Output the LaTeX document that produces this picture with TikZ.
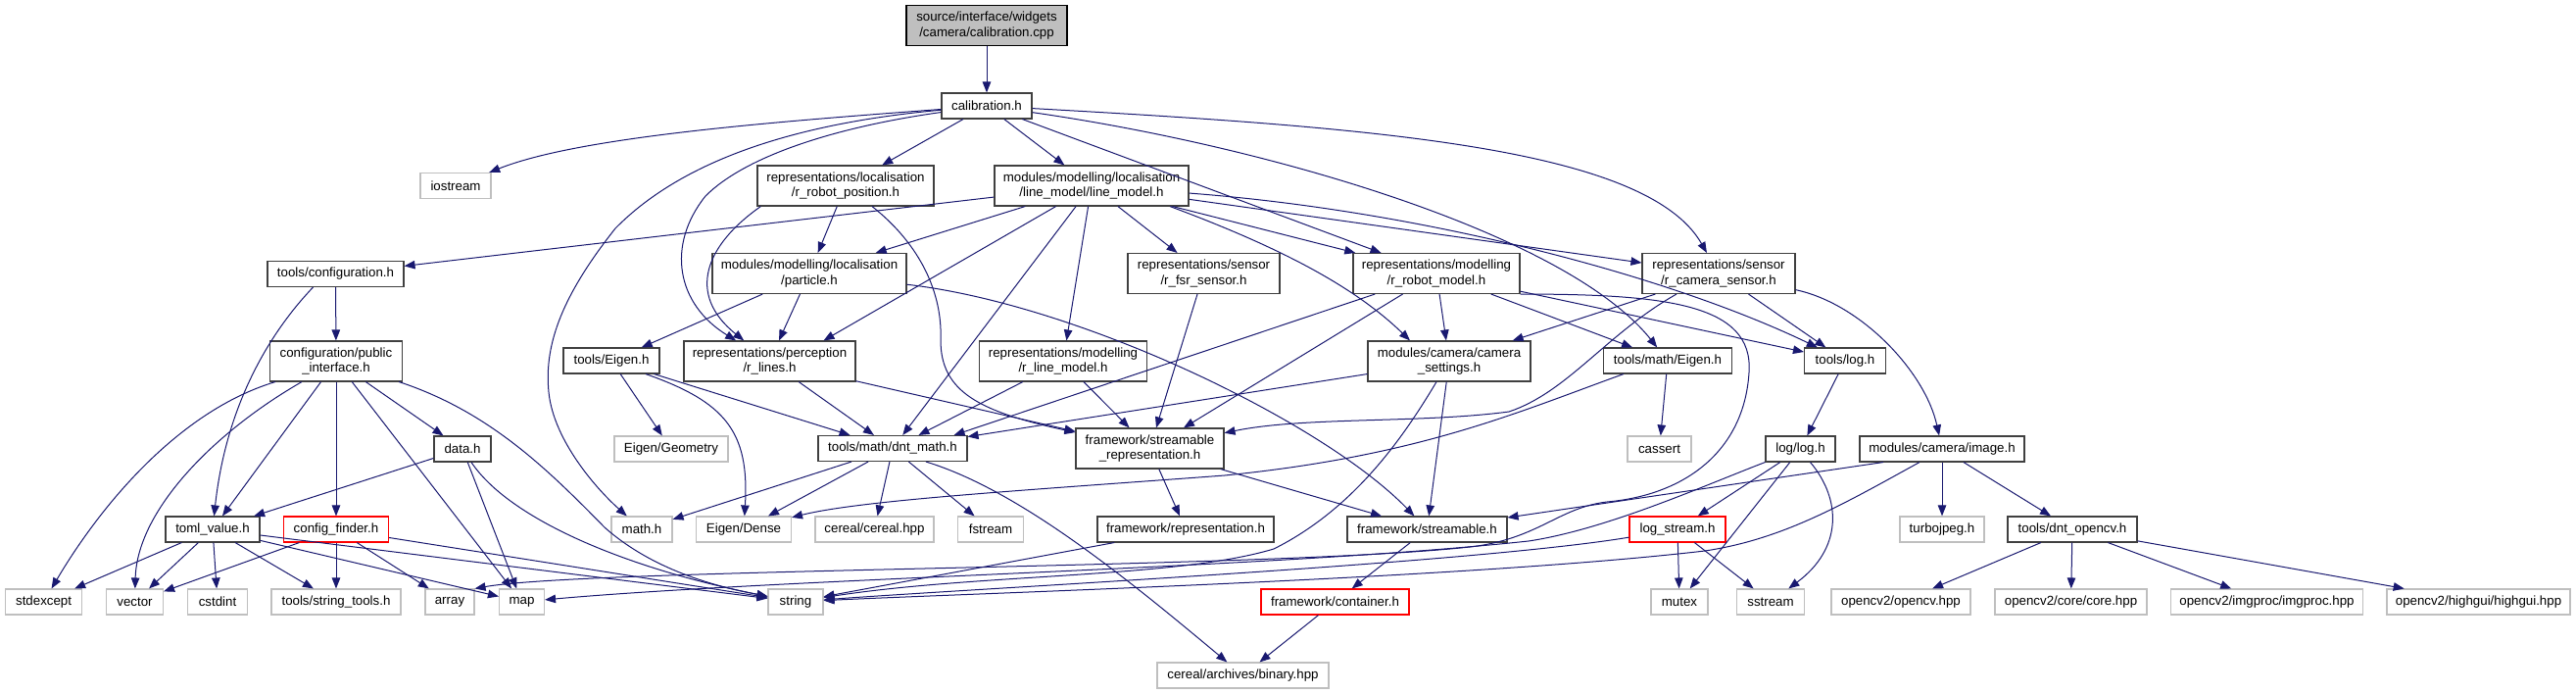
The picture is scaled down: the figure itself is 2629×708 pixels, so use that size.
\documentclass[tikz,border=0pt]{standalone}
\usepackage{fontspec}
\setmainfont{Liberation Sans}
\usetikzlibrary{arrows.meta}
\definecolor{edgec}{HTML}{191970}
\definecolor{extc}{HTML}{BFBFBF}
\definecolor{intc}{HTML}{404040}
\definecolor{rootf}{HTML}{BFBFBF}
\begin{document}
\begin{tikzpicture}[x=1pt,y=-1pt,
 nd/.style={rectangle, inner sep=0pt, align=center, fill=white, line width=1.1pt, font=\fontsize{13.3}{15.3}\selectfont, minimum height=26pt},
 two/.style={minimum height=41pt},
 int/.style={nd, draw=intc},
 ext/.style={nd, draw=extc},
 trunc/.style={nd, draw=red},
 root/.style={nd, draw=black, fill=rootf},
 e/.style={draw=edgec, line width=1pt, -{Triangle[length=11pt,width=8.5pt]}},
]
\fill[white] (0,0) rectangle (2629,708);
\useasboundingbox (0,0) rectangle (2629,708);

% ---------- nodes ----------
\node[root,two,minimum width=164pt] (cpp) at (1007,26) {source/interface/widgets\\/camera/calibration.cpp};
\node[int,minimum width=92pt] (calh) at (1007,108) {calibration.h};
\node[ext,minimum width=72pt] (iostream) at (465,189.5) {iostream};
\node[int,two,minimum width=180pt] (rpos) at (863,189.5) {representations/localisation\\/r\_robot\_position.h};
\node[int,two,minimum width=198pt] (lm) at (1114,189.5) {modules/modelling/localisation\\/line\_model/line\_model.h};
\node[int,minimum width=139pt] (conf) at (342.5,279.5) {tools/configuration.h};
\node[int,two,minimum width=198pt] (part) at (826,279) {modules/modelling/localisation\\/particle.h};
\node[int,two,minimum width=155pt] (fsr) at (1228.5,279) {representations/sensor\\/r\_fsr\_sensor.h};
\node[int,two,minimum width=170pt] (rrm) at (1466,279) {representations/modelling\\/r\_robot\_model.h};
\node[int,two,minimum width=156pt] (rcs) at (1754,279) {representations/sensor\\/r\_camera\_sensor.h};
\node[int,two,minimum width=135pt] (pub) at (343,368.5) {configuration/public\\\_interface.h};
\node[int,minimum width=98pt] (teig) at (624,368) {tools/Eigen.h};
\node[int,two,minimum width=175pt] (rlines) at (785.5,368.5) {representations/perception\\/r\_lines.h};
\node[int,two,minimum width=171pt] (rlm) at (1085,368.5) {representations/modelling\\/r\_line\_model.h};
\node[int,two,minimum width=166pt] (cams) at (1479,368.5) {modules/camera/camera\\\_settings.h};
\node[int,minimum width=131pt] (meig) at (1702,368) {tools/math/Eigen.h};
\node[int,minimum width=83pt] (tlog) at (1883,368) {tools/log.h};
\node[int,minimum width=58pt] (data) at (472,458) {data.h};
\node[ext,minimum width=116pt] (egeom) at (685,458) {Eigen/Geometry};
\node[int,minimum width=152pt] (dnt) at (911,457.5) {tools/math/dnt\_math.h};
\node[int,two,minimum width=151pt] (srep) at (1173.5,457.5) {framework/streamable\\\_representation.h};
\node[ext,minimum width=65pt] (cassert) at (1693.5,458) {cassert};
\node[int,minimum width=71pt] (loglog) at (1837.5,458) {log/log.h};
\node[int,minimum width=168pt] (image) at (1982,458) {modules/camera/image.h};
\node[int,minimum width=96pt] (toml) at (217,540) {toml\_value.h};
\node[trunc,minimum width=107pt] (cfind) at (343,540) {config\_finder.h};
\node[ext,minimum width=62pt] (mathh) at (655,540) {math.h};
\node[ext,minimum width=97pt] (edense) at (759,540) {Eigen/Dense};
\node[ext,minimum width=121pt] (cereal) at (892.5,540) {cereal/cereal.hpp};
\node[ext,minimum width=67pt] (fstream) at (1011,540) {fstream};
\node[int,minimum width=180pt] (repr) at (1210,540) {framework/representation.h};
\node[int,minimum width=163pt] (stream) at (1456.5,540) {framework/streamable.h};
\node[trunc,minimum width=98pt] (lstream) at (1712,540) {log\_stream.h};
\node[ext,minimum width=86pt] (tjpeg) at (1982,540) {turbojpeg.h};
\node[int,minimum width=132pt] (docv) at (2115,540) {tools/dnt\_opencv.h};
\node[ext,minimum width=78pt] (stdexcept) at (44.6,614) {stdexcept};
\node[ext,minimum width=58pt] (vector) at (137.5,614) {vector};
\node[ext,minimum width=61pt] (cstdint) at (222,614) {cstdint};
\node[ext,minimum width=132pt] (strtools) at (343,614) {tools/string\_tools.h};
\node[ext,minimum width=50pt] (array) at (459,614) {array};
\node[ext,minimum width=46pt] (map) at (532.5,614) {map};
\node[ext,minimum width=56pt] (string) at (812,614) {string};
\node[trunc,minimum width=151pt] (container) at (1362.5,614) {framework/container.h};
\node[ext,minimum width=58pt] (mutex) at (1714,614) {mutex};
\node[ext,minimum width=69pt] (sstream) at (1807,614) {sstream};
\node[ext,minimum width=142pt] (ocv) at (1940,614) {opencv2/opencv.hpp};
\node[ext,minimum width=155pt] (core) at (2113.5,614) {opencv2/core/core.hpp};
\node[ext,minimum width=196pt] (imgproc) at (2313.5,614) {opencv2/imgproc/imgproc.hpp};
\node[ext,minimum width=187pt] (highgui) at (2529.5,614) {opencv2/highgui/highgui.hpp};
\node[ext,minimum width=175pt] (binary) at (1268.5,689) {cereal/archives/binary.hpp};

% ---------- edges ----------
\draw[e] (cpp) -- (calh);
\draw[e] (calh) .. controls (780,125) and (590,140) .. (iostream);
\draw[e] (calh) .. controls (820,125) and (700,160) .. (628,233) .. controls (575,300) and (555,350) .. (560,400) .. controls (565,450) and (610,500) .. (mathh);
\draw[e] (calh) .. controls (850,130) and (760,160) .. (720,200) .. controls (680,250) and (690,310) .. (rlines);
\draw[e] (calh) -- (rpos);
\draw[e] (calh) -- (lm);
\draw[e] (calh) -- (rrm);
\draw[e] (calh) .. controls (1300,150) and (1600,240) .. (meig);
\draw[e] (calh) .. controls (1400,130) and (1680,150) .. (rcs);

\draw[e] (rpos) -- (part);
\draw[e] ([xshift=4pt]rpos.south west) .. controls (720,250) and (700,300) .. (rlines);
\draw[e] ([xshift=27pt]rpos.south) .. controls (940,250) and (962,300) .. (960,347) .. controls (960,400) and (1000,420) .. (srep);

\draw[e] (lm) -- (conf);
\draw[e] (lm) -- (part);
\draw[e] (lm) -- ([xshift=55pt]rlines.north);
\draw[e] (lm) -- (dnt);
\draw[e] (lm) -- (rlm);
\draw[e] (lm) -- (fsr);
\draw[e] (lm) -- (rrm);
\draw[e] ([xshift=80pt]lm.south) .. controls (1300,250) and (1380,290) .. ([xshift=-40pt]cams.north);
\draw[e] (lm) -- (rcs);
\draw[e] (lm) .. controls (1450,215) and (1700,280) .. (tlog);

\draw[e] (part) -- (teig);
\draw[e] (part) -- (rlines);
\draw[e] (part) .. controls (1100,310) and (1350,430) .. (stream);

\draw[e] (fsr) -- (srep);

\draw[e] (rrm) -- ([xshift=-14pt]dnt.north east);
\draw[e] (rrm) -- (srep);
\draw[e] (rrm) -- (cams);
\draw[e] (rrm) -- (meig);
\draw[e] (rrm) -- (tlog);
\draw[e] (rrm.south east) .. controls (1700,300) and (1790,310) .. (1785,380) .. controls (1780,460) and (1720,505) .. (1640,512) .. controls (1590,518) and (1570,550) .. (1500,558) .. controls (1300,580) and (600,580) .. (array.north east);

\draw[e] (rcs) -- (cams);
\draw[e] ([xshift=-43pt]rcs.south) .. controls (1640,340) and (1600,400) .. (1540,420) .. controls (1450,432) and (1330,425) .. (srep);
\draw[e] (rcs) -- (tlog);
\draw[e] (rcs) .. controls (1900,310) and (1965,380) .. (image);

\draw[e] (conf) -- (pub);
\draw[e] ([xshift=-23pt]conf.south) .. controls (270,345) and (230,420) .. (toml);

\draw[e] ([xshift=-62pt]pub.south) .. controls (180,420) and (100,520) .. (stdexcept);
\draw[e] ([xshift=-35pt]pub.south) .. controls (220,440) and (140,520) .. (vector);
\draw[e] (pub) -- (toml);
\draw[e] (pub) -- (cfind);
\draw[e] (pub) -- (map);
\draw[e] (pub) -- (data);
\draw[e] (pub) .. controls (500,420) and (560,480) .. (617,538) .. controls (670,585) and (740,600) .. (string);

\draw[e] (teig) -- (egeom);
\draw[e] ([xshift=35pt]teig.south) .. controls (740,410) and (765,440) .. (edense);
\draw[e] (teig) -- (dnt);

\draw[e] (rlines) -- (dnt);
\draw[e] (rlines) -- (srep);
\draw[e] (rlm) -- (dnt);
\draw[e] (rlm) -- (srep);

\draw[e] (cams) -- (dnt);
\draw[e] (cams) -- (stream);
\draw[e] ([xshift=-13pt]cams.south) .. controls (1430,450) and (1380,520) .. (1300,560) .. controls (1200,590) and (1000,585) .. (string);

\draw[e] (meig) -- (cassert);
\draw[e] ([xshift=-45pt]meig.south) .. controls (1550,420) and (1450,465) .. (1250,485) .. controls (1050,500) and (880,510) .. (edense);

\draw[e] (tlog) -- (loglog);

\draw[e] (data) -- (toml);
\draw[e] (data) -- (map);
\draw[e] ([xshift=9pt]data.south) .. controls (520,530) and (640,580) .. (string);

\draw[e] (dnt) -- (mathh);
\draw[e] (dnt) -- (edense);
\draw[e] (dnt) -- (cereal);
\draw[e] (dnt) -- (fstream);
\draw[e] ([xshift=34pt]dnt.south) .. controls (1040,500) and (1150,590) .. (binary);

\draw[e] (srep) -- (repr);
\draw[e] (srep) -- (stream);

\draw[e] (loglog) -- (lstream);
\draw[e] (loglog) -- (mutex);
\draw[e] ([xshift=10pt]loglog.south) .. controls (1880,510) and (1880,560) .. (sstream);
\draw[e] (loglog.south west) .. controls (1740,495) and (1640,540) .. (1560,552) .. controls (1300,580) and (800,590) .. (map);

\draw[e] ([xshift=-60pt]image.south) -- (stream);
\draw[e] ([xshift=-23pt]image.south) .. controls (1880,515) and (1820,550) .. (1740,562) .. controls (1500,590) and (1000,605) .. (string);
\draw[e] (image) -- (tjpeg);
\draw[e] (image) -- (docv);

\draw[e] (toml) -- (stdexcept);
\draw[e] (toml) -- (vector);
\draw[e] (toml) -- (cstdint);
\draw[e] (toml) -- (strtools);
\draw[e] (toml) -- (map);
\draw[e] (toml) -- (string);

\draw[e] (cfind) -- (vector);
\draw[e] (cfind) -- (strtools);
\draw[e] (cfind) -- (array);
\draw[e] (cfind) -- (string);

\draw[e] (repr) -- (string);
\draw[e] (stream) -- (container);
\draw[e] (container) -- (binary);

\draw[e] (lstream) -- (mutex);
\draw[e] (lstream) -- (sstream);
\draw[e] (lstream) .. controls (1500,575) and (1000,600) .. (string);

\draw[e] (docv) -- (ocv);
\draw[e] (docv) -- (core);
\draw[e] (docv) -- (imgproc);
\draw[e] (docv) -- (highgui);
\end{tikzpicture}
\end{document}
